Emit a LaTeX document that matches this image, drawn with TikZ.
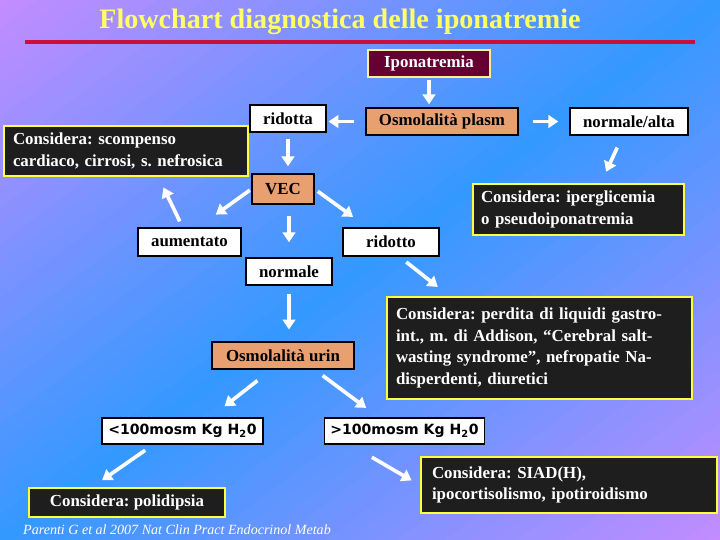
\documentclass[tikz,border=0pt]{standalone}
\usepackage{fontspec}
\setmainfont{Liberation Serif}
\newfontfamily\boxsans{DejaVu Sans}
\usepackage{tikz}
\usetikzlibrary{arrows.meta}
\definecolor{bgpurple}{RGB}{196,140,255}
\definecolor{bgblue}{RGB}{51,153,255}
\definecolor{titleyellow}{RGB}{255,255,102}
\definecolor{rulered}{RGB}{200,16,60}
\definecolor{ipomaroon}{RGB}{102,0,51}
\definecolor{ipoborder}{RGB}{255,240,150}
\definecolor{osmorange}{RGB}{232,160,112}
\definecolor{notedark}{RGB}{30,30,30}
\definecolor{noteyellow}{RGB}{255,255,64}
\frenchspacing

\begin{document}
\begin{tikzpicture}[font=\bfseries\fontsize{12}{15.5}\selectfont,
  whitebox/.style={draw=black, line width=0.8pt, fill=white, minimum height=0.675cm},
  orangebox/.style={draw=black, line width=0.8pt, fill=osmorange, text=black, minimum height=0.675cm},
  notebox/.style={draw=noteyellow, line width=2pt, fill=notedark, text=white, align=left},
  arr/.style={draw=white, line width=2.6pt, -{Triangle[width=9pt,length=7pt]}}]

% Background (diagonal purple-blue-purple bands)
\begin{scope}
  \clip (0,0) rectangle (18,-13.5);
  \begin{scope}[rotate around={37:(9,-6.75)}]
    \foreach \i in {-32,...,32} {
      \pgfmathsetmacro\mix{max(0,100-abs(\i)*100/30)}
      \fill[bgblue!\mix!bgpurple] (-12,{-6.75+\i*0.36-0.19}) rectangle (30,{-6.75+\i*0.36+0.19});
    }
  \end{scope}
\end{scope}
\useasboundingbox (0,0) rectangle (18,-13.5);

% Title and rule
\node[text=titleyellow, font=\bfseries\fontsize{20}{23}\selectfont] (title) at (8.5,-0.55) {Flowchart diagnostica delle iponatremie};
\draw[rulered, line width=3pt] (0.625,-1.05) -- (17.375,-1.05);

% Plasma osmolality
\node[draw=ipoborder, line width=0.8pt, fill=ipomaroon, text=white, minimum width=3.05cm, minimum height=0.675cm] (ipo) at (10.725,-1.5875) {Iponatremia};
\node[orangebox, minimum width=3.8cm] (osmp) at (11.05,-3.0375) {Osmolalità plasm};
\node[whitebox, minimum width=1.9cm] (rid) at (7.2,-2.9625) {ridotta};
\node[whitebox, minimum width=2.95cm] (nalt) at (15.725,-3.0375) {normale/alta};
\node[notebox, text width=5.65cm, inner xsep=0.225cm, minimum height=1.25cm] (scomp) at (3.15,-3.775) {Considera: scompenso\\cardiaco, cirrosi, s. nefrosica};
\node[notebox, text width=4.875cm, inner xsep=0.2cm, minimum height=1.275cm] (iperg) at (14.4625,-5.2375) {Considera: iperglicemia\\o pseudoiponatremia};

% Extracellular volume
\node[orangebox, minimum width=1.55cm, minimum height=0.75cm] (vec) at (7.075,-4.725) {VEC};
\node[whitebox, minimum width=2.575cm, minimum height=0.7cm] (aum) at (4.7375,-6.05) {aumentato};
\node[whitebox, minimum width=2.4cm, minimum height=0.7cm] (rdt) at (9.775,-6.05) {ridotto};
\node[whitebox, minimum width=2.15cm] (norm) at (7.225,-6.7875) {normale};
\node[notebox, text width=7.175cm, inner xsep=0.225cm, minimum height=2.55cm] (perd) at (13.4875,-8.7) {Considera: perdita di liquidi gastro-\\int., m. di Addison, “Cerebral salt-\\wasting syndrome”, nefropatie Na-\\disperdenti, diuretici};

% Urine osmolality
\node[orangebox, minimum width=3.55cm] (osmu) at (7.075,-8.8875) {Osmolalità urin};
\node[whitebox, minimum width=4.025cm, minimum height=0.65cm, font=\boxsans\bfseries\fontsize{10}{12}\selectfont] (lt) at (4.5625,-10.775) {<100mosm Kg H\textsubscript{2}0};
\node[whitebox, minimum width=4.0cm, minimum height=0.65cm, font=\boxsans\bfseries\fontsize{10}{12}\selectfont] (gt) at (10.1125,-10.775) {>100mosm Kg H\textsubscript{2}0};
\node[notebox, minimum width=4.9cm, minimum height=0.725cm, align=center] (pol) at (3.175,-12.5625) {Considera: polidipsia};
\node[notebox, text width=6.85cm, inner xsep=0.275cm, minimum height=1.4cm] (siad) at (14.225,-12.125) {Considera: SIAD(H),\\ipocortisolismo, ipotiroidismo};
\node[text=white, font=\itshape\fontsize{10}{12}\selectfont] (cite) at (4.425,-13.25) {Parenti G et al 2007 Nat Clin Pract Endocrinol Metab};

% Arrows
\draw[arr, shorten <=0.05cm, shorten >=0.08cm] (ipo.south) -- (ipo.south |- osmp.north);
\draw[arr, shorten <=0.28cm, shorten >=0.05cm] (osmp.west) -- (osmp.west -| rid.east);
\draw[arr, shorten <=0.35cm, shorten >=0.28cm] (osmp.east) -- (nalt.west);
\draw[arr, shorten <=0.15cm, shorten >=0.18cm] (rid.south) -- (rid.south |- vec.north);
\draw[arr, shorten <=0.05cm, shorten >=0.55cm] (vec.west) -- (aum.60);
\draw[arr, shorten <=0.28cm, shorten >=0.38cm] (norm.north |- vec.south) -- (norm.north);
\draw[arr, shorten <=0.1cm, shorten >=0.45cm] (vec.east) -- (rdt.148);
\draw[arr, shorten <=0.17cm, shorten >=0.28cm] (aum.115) -- (scomp.321);
\draw[arr, shorten <=0.33cm, shorten >=0.3cm] (nalt.246) -- (iperg.50);
\draw[arr, shorten <=0.22cm, shorten >=0.35cm] (rdt.300) -- (perd.150);
\draw[arr, shorten <=0.2cm, shorten >=0.3cm] (norm.south) -- (norm.south |- osmu.north);
\draw[arr, shorten <=0.45cm, shorten >=0.45cm] (osmu.231) -- (lt.26);
\draw[arr, shorten <=0.25cm, shorten >=0.4cm] (osmu.336) -- (gt.152);
\draw[arr, shorten <=0.25cm, shorten >=0.28cm] (lt.205) -- (pol.155);
\draw[arr, shorten <=0.63cm, shorten >=0.23cm] (gt.194) -- (siad.west);

\end{tikzpicture}
\end{document}
